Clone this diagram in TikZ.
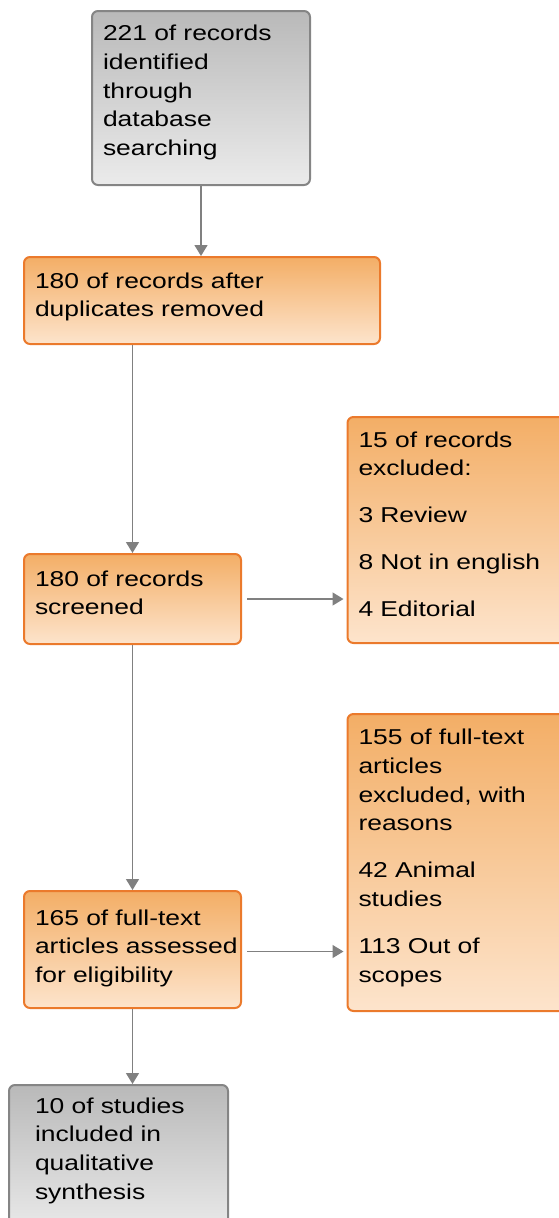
\documentclass[tikz,border=0pt]{standalone}
\usepackage{fontspec}
\setmainfont{Liberation Sans}[FakeStretch=1.23]
\usepackage{tikz}
\usetikzlibrary{positioning,arrows.meta}

\definecolor{greyline}{HTML}{858585}
\definecolor{greytop}{HTML}{B9B9B9}
\definecolor{greybot}{HTML}{EBEBEB}
\definecolor{orangeline}{HTML}{EB7A2C}
\definecolor{orangetop}{HTML}{F3AE66}
\definecolor{orangebot}{HTML}{FDE4CC}
\definecolor{arrowgrey}{HTML}{808080}

\tikzset{
  flowbox/.style={rounded corners=6pt, line width=2pt, anchor=north west,
    inner xsep=11pt, inner ysep=0pt, align=left,
    font=\fontsize{21.5}{28.8}\selectfont},
  greybox/.style={flowbox, draw=greyline, top color=greytop, bottom color=greybot},
  orangebox/.style={flowbox, draw=orangeline, top color=orangetop, bottom color=orangebot},
  arr/.style={draw=arrowgrey, line width=1.4pt, -{Triangle[length=11pt,width=13pt]}}
}

\begin{document}
\begin{tikzpicture}[x=1pt,y=-1pt]
                    \useasboundingbox (0,0) rectangle (559,1218);
                    % boxes
                    \node[greybox, text width=196pt, text height=29.5pt, text depth=144.5pt] (ident) at (91,10)
                        {221 of records\\identified\\through\\database\\searching};
                    \node[orangebox, text width=334pt, text height=31pt, text depth=56pt] (dedup) at (23,256)
                        {180 of records after\\duplicates removed};
                    \node[orangebox, text width=195pt, text height=32pt, text depth=58pt] (screen) at (23,553)
                        {180 of records\\screened};
                    \node[orangebox, text width=218pt, text height=30pt, text depth=196pt] (excl) at (346.5,416)
                        {15 of records\\excluded:\\[18pt]3 Review\\[18pt]8 Not in english\\[18pt]4 Editorial};
                    \node[orangebox, text width=195pt, text height=34pt, text depth=83pt] (assess) at (23,890)
                        {165 of full-text\\\mbox{articles assessed}\\for eligibility};
                    \node[orangebox, text width=218pt, text height=30.5pt, text depth=266.5pt] (fulltext) at (346.5,713)
                        {155 of full-text\\articles\\excluded, with\\reasons\\[18pt]42 Animal\\studies\\[18pt]113 Out of\\scopes};
                    \node[greybox, inner xsep=26pt, text width=167pt, text height=28pt, text depth=122pt] (incl) at (8,1084)
                        {10 of studies\\included in\\qualitative\\synthesis};
                    % connectors
                    \draw[arr] (ident.south) -- (ident.south |- dedup.north);
                    \draw[arr] (dedup.south -| screen.north) -- (screen.north);
                    \draw[arr] ([xshift=5pt]screen.east) -- ([xshift=-3pt]screen.east -| excl.west);
                    \draw[arr] (screen.south) -- (assess.north);
                    \draw[arr] ([xshift=5pt,yshift=-2pt]assess.east) -- ([xshift=-3pt,yshift=-2pt]assess.east -| fulltext.west);
                    \draw[arr] (assess.south) -- (assess.south |- incl.north);
                \end{tikzpicture}
\end{document}
